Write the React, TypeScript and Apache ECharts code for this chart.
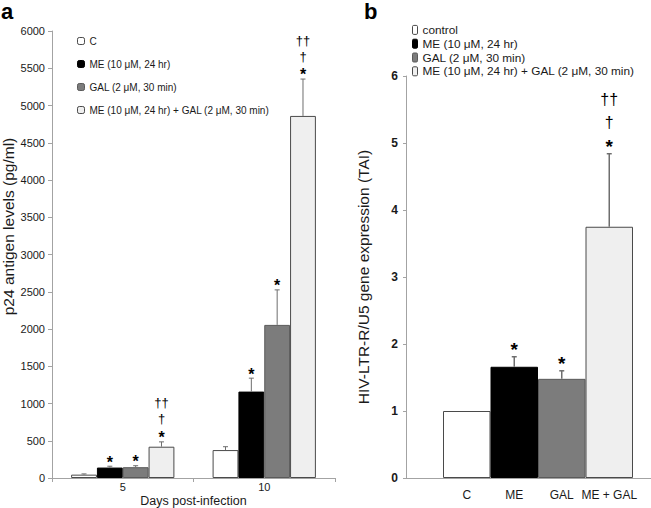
import React, { useEffect, useRef } from "react";
import * as echarts from "echarts";

// ---------- Panel a data ----------
const daysA = ["5", "10"];
const aTicksMax = 6000;
const aC = [45, 375];
const aCErr = [10, 45];
const aME = [140, 1160];
const aMEErr = [18, 180];
const aGAL = [145, 2055];
const aGALErr = [20, 470];
const aComb = [420, 4860];
const aCombErr = [65, 495];
const aCMarks = [[], []];
const aMEMarks = [["*"], ["*"]];
const aGALMarks = [["*"], ["*"]];
const aCombMarks = [["*", "†", "††"], ["*", "†", "††"]];

// ---------- Panel b data ----------
const catsB = ["C", "ME", "GAL", "ME + GAL"];
const bValues = [1.0, 1.66, 1.48, 3.75];
const bErrs = [0, 0.15, 0.12, 1.09];
const bMarks = [[], ["*"], ["*"], ["*", "†", "††"]];

const namesA = [
  "C",
  "ME (10 μM, 24 hr)",
  "GAL (2 μM, 30 min)",
  "ME (10 μM, 24 hr) + GAL (2 μM, 30 min)",
];
const namesB = [
  "control",
  "ME (10 μM, 24 hr)",
  "GAL (2 μM, 30 min)",
  "ME (10 μM, 24 hr) + GAL (2 μM, 30 min)",
];

const FONT = "'Liberation Sans', Arial, sans-serif";
const AXIS = "#a3a3a3";
const TXT = "#1a1a1a";
const ERRC = "#6e6e6e";

const fills = ["#ffffff", "#000000", "#7c7c7c", "#efefef"];
const borders = ["#4a4a4a", "#000000", "#5a5a5a", "#4a4a4a"];

const GAP_A = 0.27;

function errSeries(
  id: string,
  data: number[][],
  marks: string[][],
  k: number,
  n: number,
  gap: number,
  axisIdx: number,
  markOffsets: number[],
  fontSize: number,
  capHalf: number,
  lw: number
) {
  return {
    type: "custom",
    name: id,
    xAxisIndex: axisIdx,
    yAxisIndex: axisIdx,
    z: 5,
    encode: { x: 0, y: 1 },
    data,
    renderItem: (params: any, api: any) => {
      const i = api.value(0);
      const v = api.value(1);
      const e = api.value(2);
      const band = api.size([1, 0])[0];
      const barW = (band * (1 - gap)) / n;
      const off = (k - (n - 1) / 2) * barW;
      const p0 = api.coord([i, v]);
      const p1 = api.coord([i, v + e]);
      const x = p0[0] + off;
      const children: any[] = [];
      if (e > 0) {
        children.push({
          type: "line",
          shape: { x1: x, y1: p0[1], x2: x, y2: p1[1] },
          style: { stroke: ERRC, lineWidth: lw },
        });
        children.push({
          type: "line",
          shape: { x1: x - capHalf, y1: p1[1], x2: x + capHalf, y2: p1[1] },
          style: { stroke: ERRC, lineWidth: lw },
        });
      }
      const m = marks[params.dataIndex] || [];
      m.forEach((t, j) => {
        const isStar = t === "*";
        children.push({
          type: "text",
          x,
          y: p1[1] - markOffsets[j] + (isStar ? fontSize * 0.3 : 0),
          style: {
            text: t,
            fill: "#000",
            font: `${isStar ? "bold " : ""}${isStar ? fontSize + 3 : fontSize}px ${FONT}`,
            align: "center",
            verticalAlign: "middle",
          },
        });
      });
      return { type: "group", children };
    },
  };
}

export default function App() {
  const ref = useRef<HTMLDivElement>(null);
  useEffect(() => {
    if (!ref.current) return;
    const chart = echarts.init(ref.current, null, { renderer: "svg" });

    const aVals = [aC, aME, aGAL, aComb];
    const aErrs = [aCErr, aMEErr, aGALErr, aCombErr];
    const aMarks = [aCMarks, aMEMarks, aGALMarks, aCombMarks];

    const seriesA = aVals.map((vals, k) => ({
      type: "bar",
      name: namesA[k],
      xAxisIndex: 0,
      yAxisIndex: 0,
      data: vals,
      barGap: "0%",
      barCategoryGap: GAP_A * 100 + "%",
      itemStyle: { color: fills[k], borderColor: borders[k], borderWidth: 1 },
    }));
    const errA = aVals.map((vals, k) =>
      errSeries(
        "errA" + k,
        vals.map((v, i) => [i, v, aErrs[k][i]]),
        aMarks[k],
        k,
        4,
        GAP_A,
        0,
        [8, 23, 39],
        13,
        2.5,
        1
      )
    );

    const seriesB = bValues.map((v, k) => ({
      type: "bar",
      name: namesB[k],
      xAxisIndex: 1,
      yAxisIndex: 1,
      stack: "b",
      data: catsB.map((_, i) => (i === k ? v : "-")),
      barCategoryGap: "0%",
      itemStyle: { color: fills[k], borderColor: borders[k], borderWidth: 1 },
    }));
    const errB = bValues.map((v, k) =>
      errSeries(
        "errB" + k,
        [[k, v, bErrs[k]]],
        [bMarks[k]],
        0,
        1,
        0,
        1,
        [12, 31, 54],
        16,
        2.5,
        1.5
      )
    );

    chart.setOption({
      animation: false,
      textStyle: { fontFamily: FONT },
      grid: [
        { left: 52, top: 31, width: 283, height: 447, outerBoundsMode: "none", containLabel: false },
        { left: 443, top: 76, width: 190, height: 402, outerBoundsMode: "none", containLabel: false },
      ],
      legend: [
        {
          orient: "vertical",
          left: 77,
          top: 34,
          padding: 0,
          itemWidth: 7,
          itemHeight: 7,
          itemGap: 9,
          itemStyle: { borderWidth: 1 },
          data: namesA,
          textStyle: { fontSize: 10, color: TXT, lineHeight: 14, fontFamily: FONT },
          selectedMode: false,
        },
        {
          orient: "vertical",
          left: 412,
          top: 23,
          padding: 0,
          itemWidth: 5,
          itemHeight: 9,
          itemGap: 0,
          itemStyle: { borderWidth: 1 },
          data: namesB,
          textStyle: { fontSize: 11.8, color: TXT, lineHeight: 13.8, fontFamily: FONT },
          selectedMode: false,
        },
      ],
      xAxis: [
        {
          type: "category",
          gridIndex: 0,
          data: daysA,
          axisLine: { lineStyle: { color: AXIS } },
          axisTick: { show: true, length: 4, lineStyle: { color: AXIS } },
          axisLabel: { color: TXT, fontSize: 11, margin: 3 },
          name: "Days post-infection",
          nameLocation: "middle",
          nameGap: 16,
          nameMoveOverlap: false,
          nameTextStyle: { color: TXT, fontSize: 12.5, fontFamily: FONT },
        },
        {
          type: "category",
          gridIndex: 1,
          data: catsB,
          axisLine: { show: false },
          axisTick: { show: false },
          axisLabel: { color: TXT, fontSize: 12, margin: 11, interval: 0 },
        },
      ],
      yAxis: [
        {
          type: "value",
          gridIndex: 0,
          min: 0,
          max: aTicksMax,
          interval: 500,
          splitLine: { show: false },
          axisLine: { show: true, lineStyle: { color: AXIS } },
          axisTick: { show: true, length: 4, lineStyle: { color: AXIS } },
          axisLabel: { color: TXT, fontSize: 11, margin: 7, formatter: (v: number) => String(v) },
          name: "p24 antigen levels (pg/ml)",
          nameLocation: "middle",
          nameGap: 36,
          nameMoveOverlap: false,
          nameTextStyle: {
            color: TXT,
            fontSize: 15.5,
            fontFamily: FONT,
            padding: [0, 0, 0, 56],
          },
        },
        {
          type: "value",
          gridIndex: 1,
          offset: 37,
          min: 0,
          max: 6,
          interval: 1,
          splitLine: { show: false },
          axisLine: { show: true, lineStyle: { color: AXIS } },
          axisTick: { show: true, length: 3, lineStyle: { color: AXIS } },
          axisLabel: { color: TXT, fontSize: 12, fontWeight: "bold", margin: 8 },
          name: "HIV-LTR-R/U5 gene expression (TAI)",
          nameLocation: "middle",
          nameGap: 35,
          nameMoveOverlap: false,
          nameTextStyle: { color: TXT, fontSize: 15.5, fontFamily: FONT },
        },
      ],
      graphic: [
        {
          type: "text",
          left: 1,
          top: 0,
          style: { text: "a", font: `bold 22px ${FONT}`, fill: "#000" },
        },
        {
          type: "text",
          left: 364,
          top: 0,
          style: { text: "b", font: `bold 22px ${FONT}`, fill: "#000" },
        },
        {
          type: "line",
          shape: { x1: 406, y1: 478.5, x2: 651, y2: 478.5 },
          style: { stroke: AXIS, lineWidth: 1 },
        },
      ],
      series: [...seriesA, ...errA, ...seriesB, ...errB],
    });
    return () => chart.dispose();
  }, []);
  return (
    <div
      ref={ref}
      style={{ position: "absolute", left: 0, top: 0, width: 651, height: 508, background: "#fff" }}
    />
  );
}
